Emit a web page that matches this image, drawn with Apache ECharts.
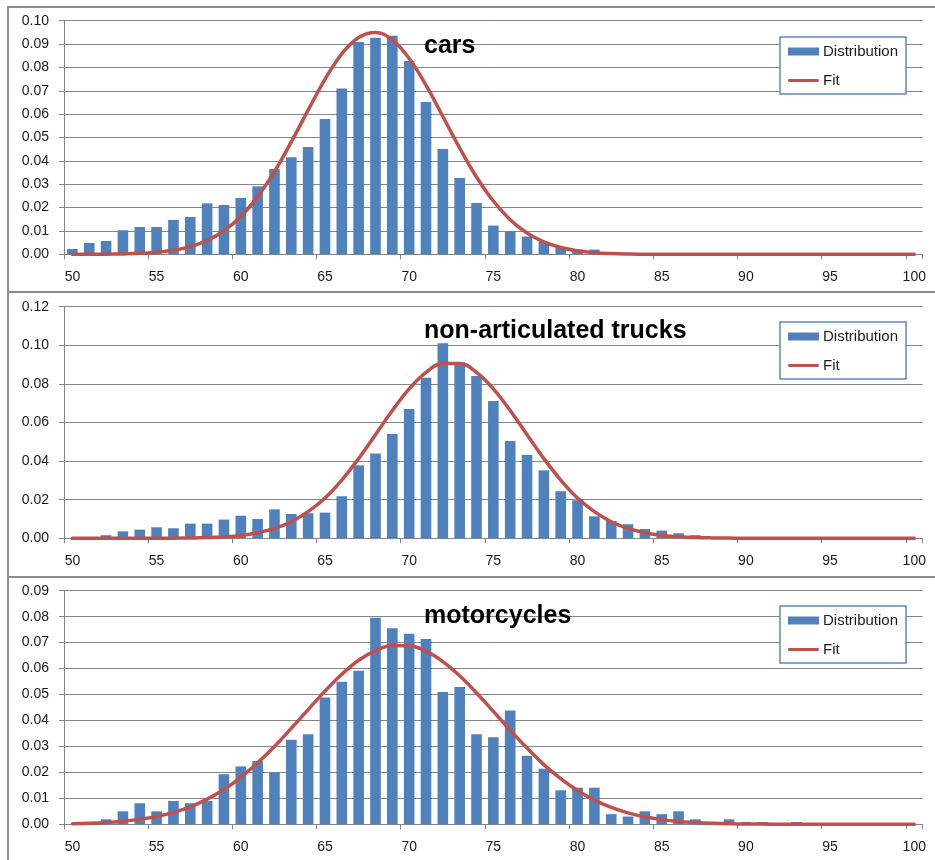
<!DOCTYPE html>
<html>
<head>
<meta charset="utf-8">
<script src="https://cdn.jsdelivr.net/npm/echarts@6/dist/echarts.min.js"></script>
<style>
  html, body { margin: 0; padding: 0; background: #ffffff; }
  #chart { width: 935px; height: 860px; }
</style>
</head>
<body>
<div id="chart"></div>
<script>
// Speed classes (km/h), one bar per class
const categories = [
  '50','51','52','53','54','55','56','57','58','59',
  '60','61','62','63','64','65','66','67','68','69',
  '70','71','72','73','74','75','76','77','78','79',
  '80','81','82','83','84','85','86','87','88','89',
  '90','91','92','93','94','95','96','97','98','99','100'
];

// Cars
const carsDistribution = [
  0.0023, 0.0049, 0.0057, 0.0103, 0.0117, 0.0117, 0.0147, 0.0160, 0.0218, 0.0211,
  0.0241, 0.0291, 0.0365, 0.0415, 0.0459, 0.0579, 0.0710, 0.0909, 0.0927, 0.0936,
  0.0827, 0.0652, 0.0451, 0.0327, 0.0220, 0.0123, 0.0100, 0.0076, 0.0053, 0.0031,
  0.0020, 0.0020, 0, 0, 0, 0, 0, 0, 0, 0,
  0, 0, 0, 0, 0, 0, 0, 0, 0, 0, 0
];
const carsFit = [
  0.00001, 0.00003, 0.00007, 0.00018, 0.0004, 0.0009, 0.0017, 0.0033, 0.0059, 0.0101,
  0.0162, 0.0247, 0.0354, 0.0481, 0.0617, 0.0749, 0.0858, 0.0928, 0.0950, 0.0918,
  0.0838, 0.0724, 0.0590, 0.0455, 0.0331, 0.0228, 0.0148, 0.0091, 0.0053, 0.0029,
  0.0015, 0.0007, 0.0003, 0.0001, 0, 0, 0, 0, 0, 0,
  0, 0, 0, 0, 0, 0, 0, 0, 0, 0, 0
];

// Non-articulated trucks
const trucksDistribution = [
  0, 0, 0.0016, 0.0036, 0.0045, 0.0057, 0.0052, 0.0076, 0.0076, 0.0097,
  0.0117, 0.0100, 0.0150, 0.0126, 0.0130, 0.0133, 0.0218, 0.0378, 0.0439, 0.0541,
  0.0670, 0.0832, 0.1010, 0.0912, 0.0841, 0.0712, 0.0504, 0.0432, 0.0352, 0.0244,
  0.0197, 0.0114, 0.0090, 0.0073, 0.0048, 0.0040, 0.0026, 0.0016, 0, 0,
  0, 0, 0, 0, 0, 0, 0, 0, 0, 0, 0
];
const trucksFit = [
  0, 0, 0, 0, 0.00001, 0.00003, 0.00007, 0.00017, 0.00037, 0.00077,
  0.0015, 0.0029, 0.0051, 0.0086, 0.0138, 0.0209, 0.0302, 0.0413, 0.0537, 0.0662,
  0.0774, 0.0860, 0.0906, 0.0906, 0.0860, 0.0774, 0.0662, 0.0537, 0.0413, 0.0302,
  0.0209, 0.0138, 0.0086, 0.0051, 0.0029, 0.0015, 0.0008, 0.0004, 0.0002, 0.0001,
  0, 0, 0, 0, 0, 0, 0, 0, 0, 0, 0
];

// Motorcycles
const motoDistribution = [
  0, 0, 0.0019, 0.0050, 0.0081, 0.0050, 0.0090, 0.0081, 0.0090, 0.0193,
  0.0223, 0.0244, 0.0200, 0.0326, 0.0347, 0.0489, 0.0549, 0.0592, 0.0796, 0.0755,
  0.0734, 0.0714, 0.0510, 0.0529, 0.0347, 0.0335, 0.0438, 0.0264, 0.0214, 0.0131,
  0.0141, 0.0141, 0.0039, 0.0030, 0.0050, 0.0039, 0.0050, 0.0019, 0, 0.0019,
  0.0009, 0.0009, 0, 0.0009, 0, 0, 0, 0, 0, 0, 0
];
const motoFit = [
  0.00024, 0.00042, 0.00072, 0.0012, 0.0019, 0.0030, 0.0046, 0.0067, 0.0097, 0.0134,
  0.0181, 0.0237, 0.0300, 0.0370, 0.0442, 0.0513, 0.0578, 0.0632, 0.0669, 0.0689,
  0.0688, 0.0667, 0.0627, 0.0572, 0.0506, 0.0435, 0.0363, 0.0294, 0.0230, 0.0176,
  0.0130, 0.0093, 0.0065, 0.0044, 0.0029, 0.0018, 0.0011, 0.0007, 0.0004, 0.0002,
  0.0001, 0.0001, 0, 0, 0, 0, 0, 0, 0, 0, 0
];

const panelTitles = ['cars', 'non-articulated trucks', 'motorcycles'];
const yMaxes = [0.10, 0.12, 0.09];
const ySteps = [0.01, 0.02, 0.01];

const datasets = [
  [carsDistribution, carsFit],
  [trucksDistribution, trucksFit],
  [motoDistribution, motoFit]
];

// Layout of the three stacked panels
const frameTops = [7, 292, 577];
const gridTops = [20.7, 306.7, 590.7];
const gridHeights = [233.6, 231.6, 233.6];
const legendTops = [37, 322, 606];
const titleTops = [34, 319, 604];

const FONT = 'Liberation Sans';
const GRID_GREY = '#858585';
const BAR_BLUE = '#4f81bd';
const FIT_RED = '#c0504d';

const grids = [], xAxes = [], yAxes = [], series = [], legends = [], titles = [], frames = [];

datasets.forEach((pair, i) => {
  grids.push({ left: 64, right: 12.3, top: gridTops[i], height: gridHeights[i], containLabel: false });

  xAxes.push({
    type: 'category',
    gridIndex: i,
    data: categories,
    boundaryGap: true,
    axisLine: { show: true, lineStyle: { color: GRID_GREY, width: 1 } },
    axisTick: { show: true, interval: 4, length: 5, alignWithLabel: false, lineStyle: { color: GRID_GREY } },
    axisLabel: { interval: 4, margin: 16, fontFamily: FONT, fontSize: 14, color: '#1a1a1a' },
    splitLine: { show: false }
  });

  yAxes.push({
    type: 'value',
    gridIndex: i,
    min: 0,
    max: yMaxes[i],
    interval: ySteps[i],
    axisLine: { show: true, lineStyle: { color: GRID_GREY, width: 1 } },
    axisTick: { show: true, length: 5, lineStyle: { color: GRID_GREY } },
    axisLabel: {
      margin: 15, fontFamily: FONT, fontSize: 14, color: '#1a1a1a',
      formatter: v => v.toFixed(2)
    },
    splitLine: { show: true, lineStyle: { color: GRID_GREY, width: 1 } }
  });

  series.push({
    name: 'Distribution',
    type: 'bar',
    xAxisIndex: i,
    yAxisIndex: i,
    data: pair[0],
    barCategoryGap: '37%',
    itemStyle: { color: BAR_BLUE },
    animation: false
  });

  series.push({
    name: 'Fit',
    type: 'line',
    xAxisIndex: i,
    yAxisIndex: i,
    data: pair[1],
    smooth: 0.4,
    symbol: 'none',
    lineStyle: { color: FIT_RED, width: 3.5, cap: 'round', join: 'round' },
    itemStyle: { color: FIT_RED },
    z: 3,
    animation: false
  });

  legends.push({
    left: 780,
    top: legendTops[i],
    orient: 'vertical',
    padding: [6, 8, 5, 8],
    itemGap: 12,
    itemWidth: 31,
    itemHeight: 8,
    backgroundColor: '#ffffff',
    borderColor: '#5d89c6',
    borderWidth: 1.5,
    selectedMode: false,
    textStyle: { fontFamily: FONT, fontSize: 15, color: '#1a1a1a', lineHeight: 16, padding: [1, 0, 0, -1] },
    data: [
      { name: 'Distribution', icon: 'rect' },
      { name: 'Fit', icon: 'path://M1.5,0 H30.5 A1.5,1.5 0 0 1 30.5,3 H1.5 A1.5,1.5 0 0 1 1.5,0 Z', itemStyle: { color: FIT_RED, borderWidth: 0 } }
    ]
  });

  titles.push({
    text: panelTitles[i],
    left: 424,
    top: titleTops[i],
    padding: 0,
    textStyle: { fontFamily: FONT, fontSize: 25, fontWeight: 'bold', color: '#000000' }
  });

  frames.push({
    type: 'rect',
    shape: { x: 8, y: frameTops[i], width: 960, height: 285 },
    style: { fill: 'none', stroke: '#8c8c8c', lineWidth: 2 },
    silent: true,
    z: 100
  });
});

const chart = echarts.init(document.getElementById('chart'), null, { renderer: 'canvas' });
chart.setOption({
  backgroundColor: '#ffffff',
  animation: false,
  title: titles,
  legend: legends,
  grid: grids,
  xAxis: xAxes,
  yAxis: yAxes,
  series: series,
  graphic: frames
});
</script>
</body>
</html>
